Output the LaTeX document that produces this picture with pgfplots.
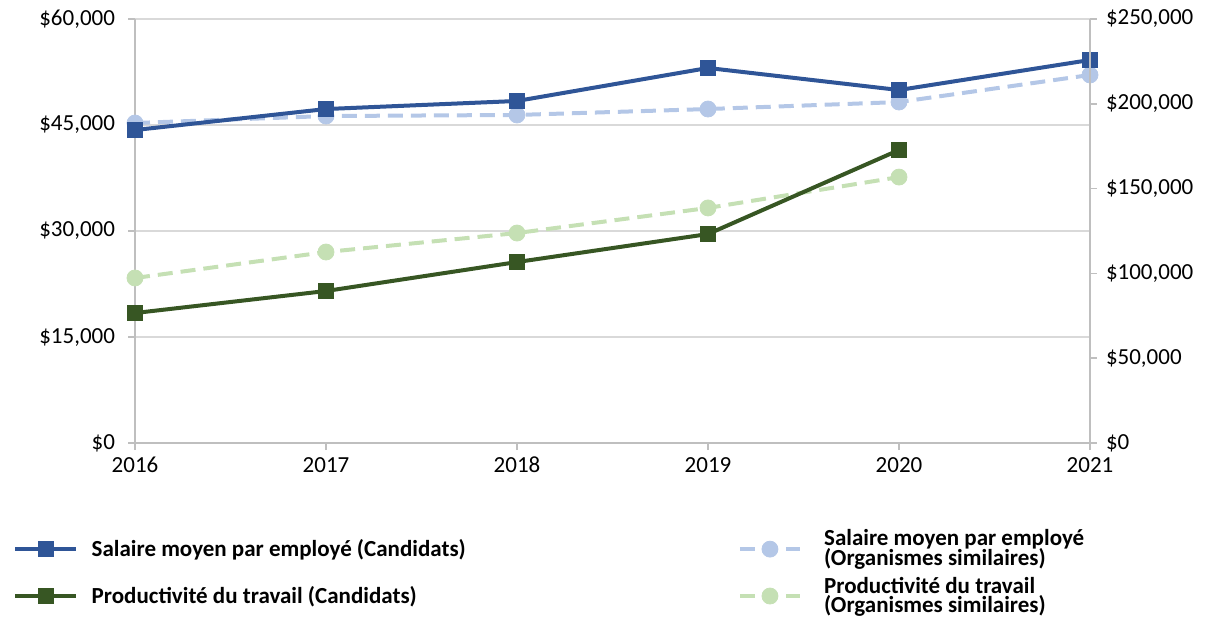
\documentclass[border=0pt]{standalone}
\usepackage{fontspec}
\setmainfont{Carlito}
\usepackage{pgfplots}
\pgfplotsset{compat=1.18}
\definecolor{dblue}{HTML}{2F5597}
\definecolor{lblue}{HTML}{B4C7E7}
\definecolor{dgreen}{HTML}{375623}
\definecolor{lgreen}{HTML}{C5E0B4}
\definecolor{gridgray}{HTML}{D9D9D9}
\definecolor{axisgray}{HTML}{BFBFBF}
\pgfplotsset{
  common/.style={
    scale only axis, width=477.5pt, height=212pt,
    xmin=2016, xmax=2021,
    tick align=outside, major tick length=3.5pt,
    tick style={draw=axisgray, line width=0.8pt},
    axis line style={draw=axisgray, line width=0.8pt, -},
    /pgf/number format/assume math mode=true,
    scaled y ticks=false,
    ticklabel style={font=\fontsize{11.5}{13}\selectfont, text=black},
    legend image code/.code={\draw[mark repeat=2,mark phase=2,##1] plot coordinates {(0cm,0cm) (0.53cm,0cm) (1.06cm,0cm)};},
  },
  sdark/.style={line width=2pt, mark=square*, mark size=3.8pt, mark options={solid, line width=0.4pt}},
  slight/.style={line width=2pt, dash pattern=on 7.5pt off 4pt, mark=*, mark size=4pt, mark options={solid, line width=0.4pt}},
}
\begin{document}
\begin{tikzpicture}
\useasboundingbox (-67.5pt,-90pt) rectangle (537pt,221.5pt);
\begin{axis}[common,
  ymin=0, ymax=60000,
  xtick={2016,2017,2018,2019,2020,2021},
  ytick={0,15000,30000,45000,60000},
  axis x line*=bottom, axis y line*=left,
  ymajorgrids, grid style={draw=gridgray, line width=0.8pt},
  yticklabel={\$\pgfmathprintnumber[fixed,1000 sep={,}]{\tick}},
  xticklabel style={/pgf/number format/1000 sep=},
  yticklabel style={xshift=-3pt},
]
\addplot[lblue, slight] coordinates {(2016,45280) (2017,46270) (2018,46420) (2019,47260) (2020,48250) (2021,52080)};
\addplot[dblue, sdark] coordinates {(2016,44290) (2017,47260) (2018,48400) (2019,53070) (2020,49950) (2021,54200)};
\end{axis}
\begin{axis}[common,
  ymin=0, ymax=250000,
  ytick={0,50000,100000,150000,200000,250000},
  axis y line*=right, axis x line=none,
  yticklabel={\$\pgfmathprintnumber[fixed,1000 sep={,}]{\tick}},
  yticklabel style={xshift=1pt},
  legend columns=2,
  legend cell align=left,
  legend style={at={(0,0)}, anchor=north west, xshift=-61pt, yshift=-41pt,
    draw=none, fill=none, inner sep=0pt,
    font=\fontsize{11.5}{8}\selectfont\bfseries,
    cells={align=left},
    row sep=0pt,
    /tikz/column 1/.style={column sep=5pt},
    /tikz/column 2/.style={column sep=134pt},
    /tikz/column 3/.style={column sep=9pt}},
]
\addlegendimage{dblue, sdark}
\addlegendentry{Salaire moyen par employé (Candidats)}
\addlegendimage{lblue, slight}
\addlegendentry{Salaire moyen par employé\\[-1.2pt](Organismes similaires)}
\addplot[lgreen, slight, forget plot] coordinates {(2016,97300) (2017,112600) (2018,123800) (2019,138600) (2020,156800)};
\addplot[dgreen, sdark] coordinates {(2016,76650) (2017,89620) (2018,106700) (2019,123200) (2020,172760)};
\addlegendentry{Productivité du travail (Candidats)}
\addlegendimage{lgreen, slight}
\addlegendentry{Productivité du travail\\[0pt](Organismes similaires)}
\end{axis}
\end{tikzpicture}
\end{document}
